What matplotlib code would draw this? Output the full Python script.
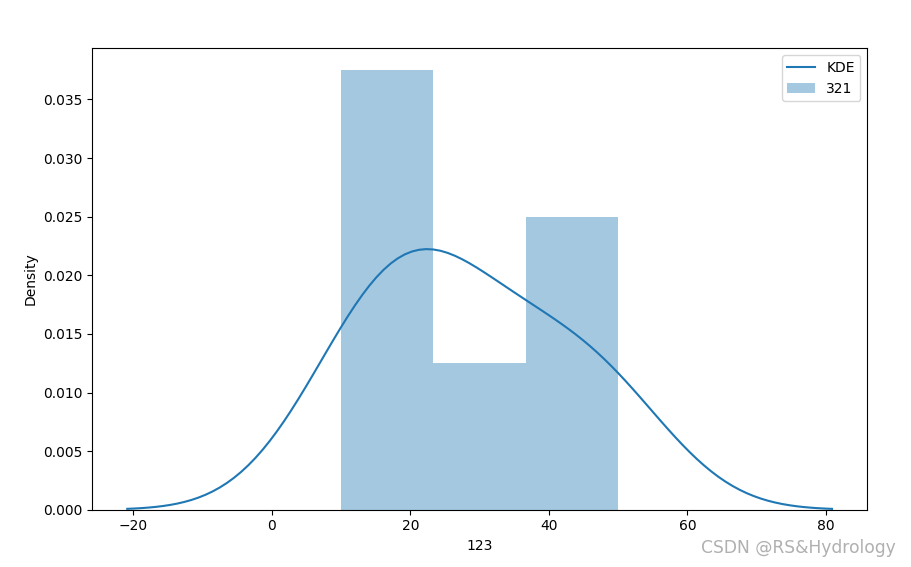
import matplotlib
matplotlib.use('Agg')
import matplotlib.pyplot as plt
import numpy as np

# raw observations (read back from the histogram / KDE shape)
samples = [10, 19, 21, 30, 40, 50]
n_bins = 3
hist_label = '321'
kde_label = 'KDE'
x_label = '123'
y_label = 'Density'


def gaussian_kde(data, grid):
    data = np.asarray(data, dtype=float)
    bw = data.std(ddof=1) * len(data) ** (-1 / 5)  # scott
    z = (grid[:, None] - data[None, :]) / bw
    dens = np.exp(-0.5 * z ** 2).sum(axis=1) / (len(data) * bw * np.sqrt(2 * np.pi))
    return dens, bw


data = np.asarray(samples, dtype=float)
_, bw = gaussian_kde(data, np.array([0.0]))
grid = np.linspace(data.min() - 3 * bw, data.max() + 3 * bw, 100)
dens, _ = gaussian_kde(data, grid)

fig = plt.figure(figsize=(9.11, 5.67), dpi=100)
ax = fig.add_subplot(111)
fig.subplots_adjust(left=0.101, right=0.952, top=0.915, bottom=0.101)

ax.hist(data, bins=n_bins, density=True, color='C0', alpha=0.4, label=hist_label)
ax.plot(grid, dens, color='C0', label=kde_label)

ax.set_xlabel(x_label)
ax.set_ylabel(y_label)
handles, labels = ax.get_legend_handles_labels()
ax.legend(handles[::-1], labels[::-1], loc='upper right')

fig.text(0.983, 0.017, 'CSDN @RS&Hydrology', ha='right', va='bottom',
         fontsize=12.3, color='#b0b0b0')

fig.savefig('out.png', dpi=100)
